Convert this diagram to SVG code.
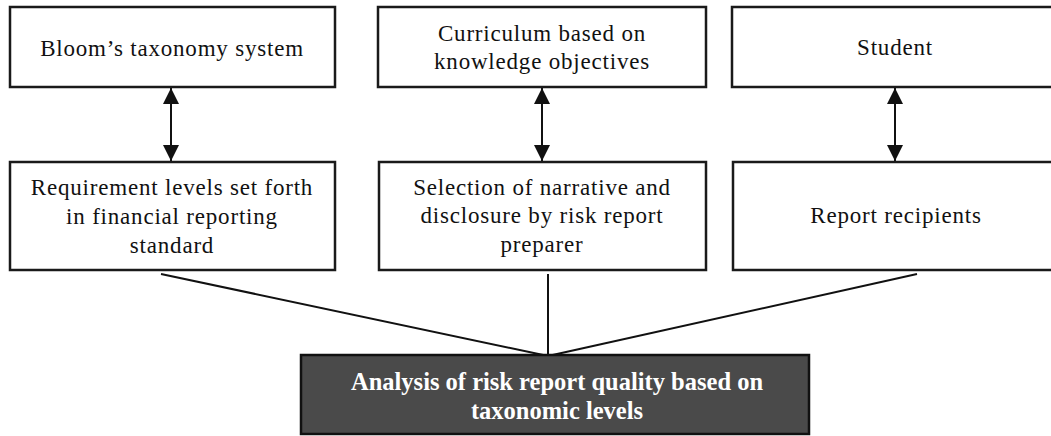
<svg xmlns="http://www.w3.org/2000/svg" width="1051" height="436" viewBox="0 0 1051 436">
<style>
.box{fill:#fff;stroke:#1a1a1a;stroke-width:2.5}
.dark{fill:#4a4a4a;stroke:#111;stroke-width:2.5}
.t{font-family:"Liberation Serif","Times New Roman",serif;font-size:23px;fill:#111;text-anchor:middle;letter-spacing:0.8px}
.tb{font-family:"Liberation Serif","Times New Roman",serif;font-size:24.5px;font-weight:bold;fill:#fff;text-anchor:middle}
.conn{stroke:#111;stroke-width:2;fill:none}
</style>
<defs>
<marker id="ah" viewBox="0 0 16 16" refX="16" refY="8" markerWidth="16" markerHeight="16" markerUnits="userSpaceOnUse" orient="auto-start-reverse">
<path d="M0,0 L16,8 L0,16 Z" fill="#111"/>
</marker>
</defs>
<g id="connectors">
<line class="conn" x1="171" y1="88" x2="171" y2="161" marker-start="url(#ah)" marker-end="url(#ah)"/>
<line class="conn" x1="542" y1="88" x2="542" y2="161" marker-start="url(#ah)" marker-end="url(#ah)"/>
<line class="conn" x1="895" y1="88" x2="895" y2="161" marker-start="url(#ah)" marker-end="url(#ah)"/>
<line class="conn" x1="161" y1="274" x2="548" y2="356"/>
<line class="conn" x1="548" y1="274" x2="548" y2="356"/>
<line class="conn" x1="917" y1="274" x2="548" y2="356"/>
</g>
<g id="bloom">
<rect class="box" x="10" y="7" width="325" height="80"/>
<text class="t" x="172" y="56">Bloom’s taxonomy system</text>
</g>
<g id="curriculum">
<rect class="box" x="378" y="7" width="328" height="80"/>
<text class="t" x="542" y="41">Curriculum based on</text>
<text class="t" x="542" y="69">knowledge objectives</text>
</g>
<g id="student">
<rect class="box" x="732" y="7" width="330" height="80"/>
<text class="t" x="895" y="55">Student</text>
</g>
<g id="requirement">
<rect class="box" x="10" y="162" width="325" height="108"/>
<text class="t" x="172" y="195">Requirement levels set forth</text>
<text class="t" x="172" y="224">in financial reporting</text>
<text class="t" x="172" y="253">standard</text>
</g>
<g id="selection">
<rect class="box" x="379" y="162" width="327" height="108"/>
<text class="t" x="542" y="195">Selection of narrative and</text>
<text class="t" x="542" y="223">disclosure by risk report</text>
<text class="t" x="542" y="252">preparer</text>
</g>
<g id="recipients">
<rect class="box" x="733" y="162" width="330" height="108"/>
<text class="t" x="896" y="223">Report recipients</text>
</g>
<g id="analysis">
<rect class="dark" x="301" y="355" width="508" height="79"/>
<text class="tb" x="557" y="390">Analysis of risk report quality based on</text>
<text class="tb" x="557" y="419">taxonomic levels</text>
</g>
</svg>
